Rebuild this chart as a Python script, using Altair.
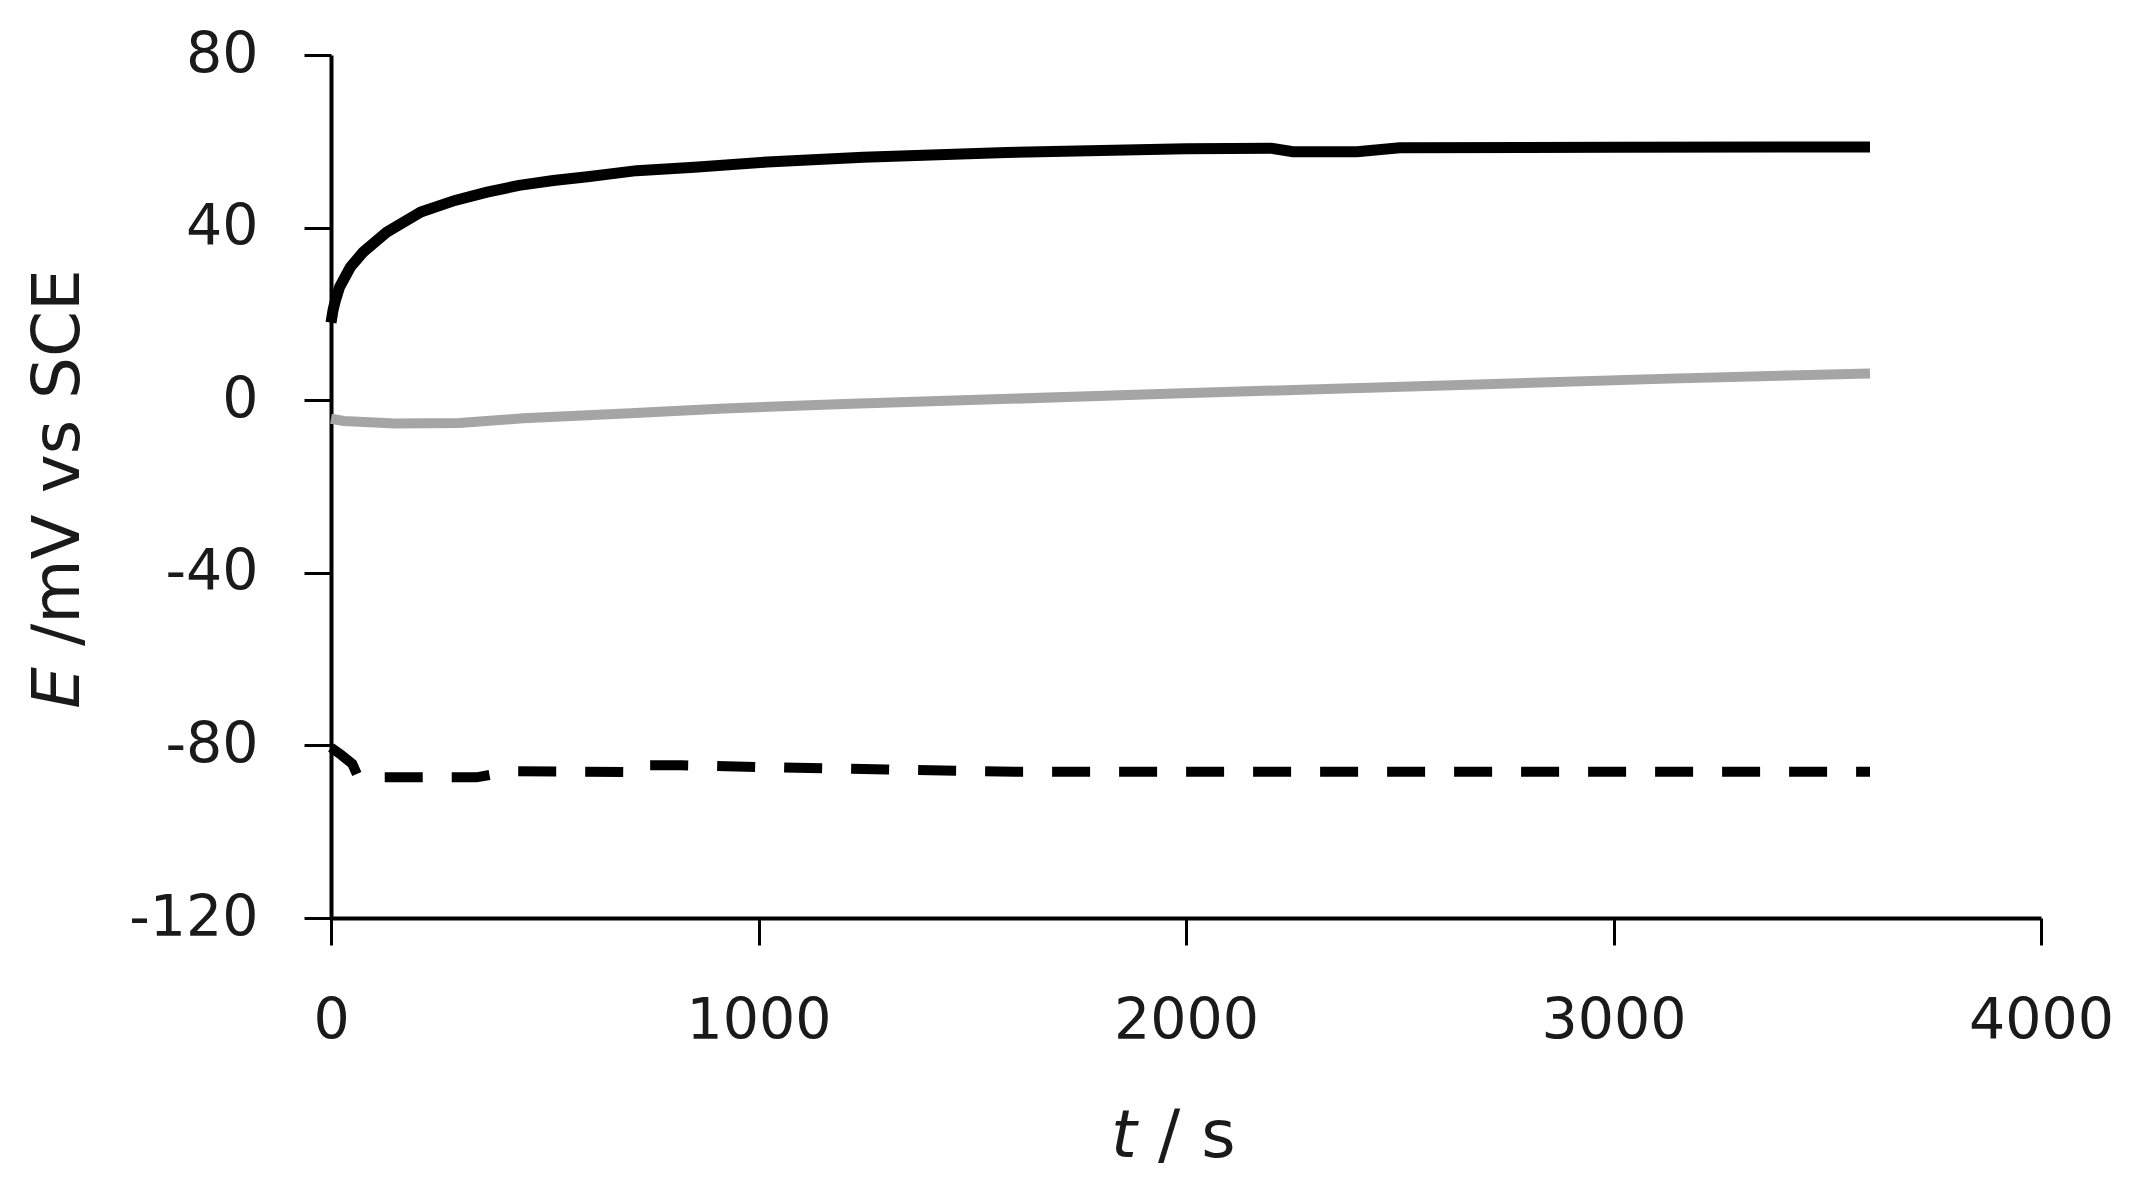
import altair as alt
import pandas as pd

# ---- data ----
black_t = [0, 5, 10, 20, 45, 75, 130, 210, 290, 365, 440, 520, 600, 715, 850,
           1020, 1245, 1580, 2000, 2200, 2250, 2400, 2500, 3000, 3600]
black_v = [18, 21, 23, 26.2, 30.8, 34.3, 38.9, 43.6, 46.3, 48.2, 49.8, 50.9, 51.8,
           53.2, 54.0, 55.2, 56.3, 57.4, 58.3, 58.4, 57.6, 57.6, 58.5, 58.6, 58.7]

gray_t = [0, 30, 150, 300, 450, 700, 920, 1200, 1550, 1900, 2290, 2700, 3130, 3600]
gray_v = [-4.3, -4.8, -5.4, -5.3, -4.2, -3.0, -1.9, -0.9, 0.2, 1.3, 2.5, 3.7, 5.0, 6.2]

dash_t = [0, 25, 50, 62, 100, 340, 420, 720, 745, 820, 1000, 1300, 1600, 3600]
dash_v = [-80.5, -82.3, -84.3, -87.0, -87.4, -87.4, -86.0, -86.2, -84.6, -84.6,
          -85.0, -85.6, -86.1, -86.1]

x_ticks = [0, 1000, 2000, 3000, 4000]
y_ticks = [-120, -80, -40, 0, 40, 80]

FONT = "DejaVu Sans"
W, H = 1710, 863

df_black = pd.DataFrame({"t": black_t, "E": black_v})
df_gray = pd.DataFrame({"t": gray_t, "E": gray_v})
df_dash = pd.DataFrame({"t": dash_t, "E": dash_v})

xs = alt.Scale(domain=[0, 4000], nice=False)
ys = alt.Scale(domain=[-120, 80], nice=False)

x_axis = alt.Axis(values=x_ticks, title=None, grid=False, labelFontSize=57,
                  labelFont=FONT, labelColor="#1a1a1a", labelPadding=48,
                  domainColor="black", domainWidth=4, tickColor="black",
                  tickWidth=3, tickSize=27, labelFlush=False, labelOverlap=False,
                  labelExpr="'' + datum.value")
y_axis = alt.Axis(values=y_ticks, title=None, grid=False, labelFontSize=57,
                  labelFont=FONT, labelColor="#1a1a1a", labelPadding=46,
                  domainColor="black", domainWidth=4, tickColor="black",
                  tickWidth=3, tickSize=27, labelExpr="'' + datum.value",
                  labelOverlap=False)

black = alt.Chart(df_black).mark_line(color="black", strokeWidth=11).encode(
    x=alt.X("t:Q", scale=xs, axis=x_axis),
    y=alt.Y("E:Q", scale=ys, axis=y_axis), order="t:Q")
gray = alt.Chart(df_gray).mark_line(color="#a5a5a5", strokeWidth=10).encode(
    x=alt.X("t:Q", scale=xs), y=alt.Y("E:Q", scale=ys), order="t:Q")
dash = alt.Chart(df_dash).mark_line(color="black", strokeWidth=10,
                                    strokeDash=[38, 29]).encode(
    x=alt.X("t:Q", scale=xs), y=alt.Y("E:Q", scale=ys), order="t:Q")

one = pd.DataFrame({"a": [0]})
TS = 66
GAP = 21
xt1 = alt.Chart(one).mark_text(text="t", font=FONT, fontSize=TS, fontStyle="italic",
                               align="right", baseline="alphabetic",
                               color="#1a1a1a").encode(
    x=alt.value(806), y=alt.value(1102))
xt2 = alt.Chart(one).mark_text(text="/ s", font=FONT, fontSize=TS,
                               align="left", baseline="alphabetic",
                               color="#1a1a1a").encode(
    x=alt.value(806 + GAP), y=alt.value(1102))
yt1 = alt.Chart(one).mark_text(text="E", font=FONT, fontSize=TS, fontStyle="italic",
                               align="right", baseline="middle", angle=270,
                               color="#1a1a1a").encode(
    x=alt.value(-272), y=alt.value(612))
yt2 = alt.Chart(one).mark_text(text="/mV vs SCE", font=FONT, fontSize=TS,
                               align="left", baseline="middle", angle=270,
                               color="#1a1a1a").encode(
    x=alt.value(-272), y=alt.value(612 - GAP))

chart = alt.layer(gray, black, dash, xt1, xt2, yt1, yt2).properties(
    width=W, height=H,
    background="white",
    autosize=alt.AutoSizeParams(type="none"),
    padding={"left": 323, "top": 47, "right": 89, "bottom": 261},
).configure_view(strokeWidth=0, stroke=None)

chart.save("out.html", embed_options={"renderer": "svg", "actions": False})
